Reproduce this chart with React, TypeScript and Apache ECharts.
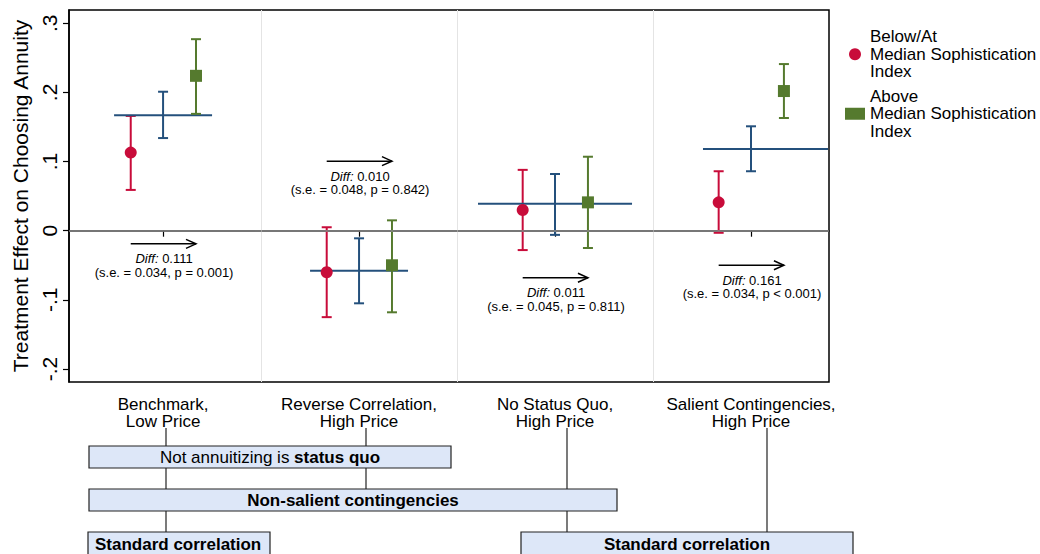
import React, { useEffect, useRef } from 'react';
import * as echarts from 'echarts';

const categories = [
  'Benchmark,\nLow Price',
  'Reverse Correlation,\nHigh Price',
  'No Status Quo,\nHigh Price',
  'Salient Contingencies,\nHigh Price',
];
const belowName = 'Below/At\nMedian Sophistication\nIndex';
const aboveName = 'Above\nMedian Sophistication\nIndex';

const belowEst = [0.113, -0.060, 0.030, 0.041];
const belowLo = [0.059, -0.125, -0.028, -0.003];
const belowHi = [0.166, 0.005, 0.088, 0.086];
const aboveEst = [0.224, -0.050, 0.041, 0.202];
const aboveLo = [0.169, -0.118, -0.025, 0.163];
const aboveHi = [0.277, 0.015, 0.107, 0.241];
const pooledEst = [0.167, -0.058, 0.039, 0.118];
const pooledLo = [0.134, -0.105, -0.006, 0.086];
const pooledHi = [0.201, -0.011, 0.082, 0.151];
const pooledSpanFrom = [0.75, 1.75, 2.607, 3.755];
const pooledSpanTo = [1.25, 2.25, 3.393, 4.393];

const diffVals = ['0.111', '0.010', '0.011', '0.161'];
const seVals = ['0.034', '0.048', '0.045', '0.034'];
const pVals = ['= 0.001', '= 0.842', '= 0.811', '< 0.001'];
const arrowY = [-0.019, 0.1006, -0.068, -0.05];

const yTicks = [-0.2, -0.1, 0, 0.1, 0.2, 0.3];
const xTicks = [1, 2, 3, 4];

const RED = '#C80C3A';
const GREEN = '#557A2E';
const BLUE = '#24507C';
const FONT = '"Liberation Sans", Arial, Helvetica, sans-serif';
const OFF_L = -0.165;
const OFF_R = 0.168;

function errBar(color: string, withH: boolean) {
  return (params: any, api: any) => {
    const x = api.value(0);
    const lo = api.value(1);
    const hi = api.value(2);
    const pLo = api.coord([x, lo]);
    const pHi = api.coord([x, hi]);
    const cw = 5;
    const st = { stroke: color, lineWidth: 2 };
    const children: any[] = [
      { type: 'line', shape: { x1: pLo[0], y1: pLo[1], x2: pHi[0], y2: pHi[1] }, style: st },
      { type: 'line', shape: { x1: pLo[0] - cw, y1: pLo[1], x2: pLo[0] + cw, y2: pLo[1] }, style: st },
      { type: 'line', shape: { x1: pHi[0] - cw, y1: pHi[1], x2: pHi[0] + cw, y2: pHi[1] }, style: st },
    ];
    if (withH) {
      const a = api.coord([api.value(3), api.value(5)]);
      const b = api.coord([api.value(4), api.value(5)]);
      children.push({ type: 'line', shape: { x1: a[0], y1: a[1], x2: b[0], y2: b[1] }, style: st });
    }
    return { type: 'group', children };
  };
}

export default function App() {
  const ref = useRef<HTMLDivElement>(null);
  useEffect(() => {
    const chart = echarts.init(ref.current!, null, { renderer: 'svg' });

    const belowBars = categories.map((_, i) => [i + 1 + OFF_L, belowLo[i], belowHi[i]]);
    const aboveBars = categories.map((_, i) => [i + 1 + OFF_R, aboveLo[i], aboveHi[i]]);
    const pooledBars = categories.map((_, i) => [i + 1, pooledLo[i], pooledHi[i], pooledSpanFrom[i], pooledSpanTo[i], pooledEst[i]]);
    const belowPts = categories.map((_, i) => [i + 1 + OFF_L, belowEst[i]]);
    const abovePts = categories.map((_, i) => [i + 1 + OFF_R, aboveEst[i]]);
    const annData = categories.map((_, i) => [i + 1, arrowY[i]]);

    const fmtY = (v: number) => {
      const r = Math.round(v * 10) / 10;
      if (r === 0) return '0';
      return (r < 0 ? '-' : '') + String(Math.abs(r)).replace(/^0/, '');
    };

    const textBase = { fontFamily: FONT, fill: '#000' };

    const graphics: any[] = [];
    const conn = (x: number, y1: number, y2: number) =>
      graphics.push({ type: 'line', shape: { x1: x, y1, x2: x, y2 }, style: { stroke: '#222', lineWidth: 1.2 }, silent: true });
    conn(166, 428, 446); conn(166, 468, 489); conn(166, 511, 532);
    conn(366, 428, 446); conn(366, 468, 489);
    conn(567, 428, 489); conn(567, 511, 532);
    conn(767, 428, 532);
    const box = (x: number, y: number, w: number, h: number) =>
      graphics.push({ type: 'rect', shape: { x, y, width: w, height: h }, style: { fill: '#DDE7F8', stroke: '#222', lineWidth: 1.2 }, silent: true });
    box(89, 446, 362, 22);
    box(89, 489, 528, 22);
    box(88, 532, 182, 30);
    box(521, 532, 332, 30);
    graphics.push({
      type: 'text', x: 270, y: 457, silent: true,
      style: {
        text: '{n|Not annuitizing is }{b|status quo}',
        align: 'center', verticalAlign: 'middle',
        rich: {
          n: { fontFamily: FONT, fontSize: 17, fill: '#000' },
          b: { fontFamily: FONT, fontSize: 17, fontWeight: 'bold', fill: '#000' },
        },
      },
    });
    graphics.push({ type: 'text', x: 353, y: 500, silent: true, style: { ...textBase, text: 'Non-salient contingencies', fontSize: 17, fontWeight: 'bold', align: 'center', verticalAlign: 'middle' } });
    graphics.push({ type: 'text', x: 95, y: 544, silent: true, style: { ...textBase, text: 'Standard correlation', fontSize: 17, fontWeight: 'bold', align: 'left', verticalAlign: 'middle' } });
    graphics.push({ type: 'text', x: 687, y: 544, silent: true, style: { ...textBase, text: 'Standard correlation', fontSize: 17, fontWeight: 'bold', align: 'center', verticalAlign: 'middle' } });

    const option: any = {
      animation: false,
      backgroundColor: '#fff',
      grid: {
        left: 69, right: 211, top: 10, bottom: 172,
        show: true, borderColor: '#000', borderWidth: 1.5, backgroundColor: 'transparent',
      },
      legend: {
        data: [belowName, aboveName],
        orient: 'vertical',
        left: 840, top: 23,
        itemWidth: 20, itemHeight: 12, itemGap: 7,
        textStyle: { fontSize: 17, lineHeight: 17.5, color: '#000', fontFamily: FONT },
        selectedMode: false,
      },
      xAxis: {
        type: 'value', min: 0.52, max: 4.398,
        axisLine: { show: true, lineStyle: { color: '#000', width: 1.5 } },
        axisTick: { show: true, customValues: xTicks, length: 6, lineStyle: { color: '#000', width: 1.2 } },
        axisLabel: {
          customValues: xTicks,
          formatter: (v: number) => categories[Math.round(v) - 1] || '',
          fontSize: 17, lineHeight: 17, margin: 14, color: '#000', fontFamily: FONT,
        },
        splitLine: { show: false },
      },
      yAxis: {
        type: 'value', min: -0.2188, max: 0.3192,
        name: 'Treatment Effect on Choosing Annuity',
        nameLocation: 'middle', nameGap: 32, nameRotate: 90,
        nameTextStyle: { fontSize: 21, color: '#000', fontFamily: FONT },
        axisLine: { show: true, lineStyle: { color: '#000', width: 1.5 } },
        axisTick: { show: true, customValues: yTicks, length: 6, lineStyle: { color: '#000', width: 1.2 } },
        axisLabel: {
          customValues: yTicks, rotate: 90, formatter: fmtY,
          fontSize: 21, margin: 9, color: '#000', fontFamily: FONT,
        },
        splitLine: { show: false },
      },
      graphic: graphics,
      series: [
        {
          type: 'line', name: 'refs', data: [], silent: true, z: 1,
          markLine: {
            silent: true, symbol: 'none', label: { show: false },
            data: [
              { xAxis: 1.5, lineStyle: { color: '#E4E4E4', width: 1, type: 'solid' } },
              { xAxis: 2.5, lineStyle: { color: '#E4E4E4', width: 1, type: 'solid' } },
              { xAxis: 3.5, lineStyle: { color: '#E4E4E4', width: 1, type: 'solid' } },
              { yAxis: 0, lineStyle: { color: '#8A8A8A', width: 1.5, type: 'solid' } },
            ],
          },
        },
        {
          type: 'custom', name: 'belowCI', renderItem: errBar(RED, false), data: belowBars,
          encode: { x: 0, y: [1, 2] }, silent: true, z: 2,
        },
        {
          type: 'custom', name: 'pooledCI', renderItem: errBar(BLUE, true), data: pooledBars,
          encode: { x: 0, y: [1, 2] }, silent: true, z: 2,
        },
        {
          type: 'custom', name: 'aboveCI', renderItem: errBar(GREEN, false), data: aboveBars,
          encode: { x: 0, y: [1, 2] }, silent: true, z: 2,
        },
        {
          type: 'scatter', name: belowName, data: belowPts, symbol: 'circle', symbolSize: 12,
          itemStyle: { color: RED, opacity: 1 }, z: 5, silent: true,
        },
        {
          type: 'scatter', name: aboveName, data: abovePts, symbol: 'rect', symbolSize: 12,
          itemStyle: { color: GREEN, opacity: 1 }, z: 5, silent: true,
        },
        {
          type: 'custom', name: 'annotations', data: annData, encode: { x: 0, y: 1 }, silent: true, z: 6,
          renderItem: (params: any, api: any) => {
            const i = params.dataIndex;
            const cx = api.value(0);
            const ay = api.value(1);
            const a = api.coord([cx + OFF_L, ay]);
            const b = api.coord([cx + OFF_R, ay]);
            const c = api.coord([cx, ay]);
            const st = { stroke: '#000', lineWidth: 1.5, fill: 'none' };
            return {
              type: 'group',
              children: [
                { type: 'line', shape: { x1: a[0], y1: a[1], x2: b[0], y2: b[1] }, style: st },
                { type: 'polyline', shape: { points: [[b[0] - 10, b[1] - 4.5], [b[0], b[1]], [b[0] - 10, b[1] + 4.5]] }, style: st },
                {
                  type: 'text', x: c[0] + 1, y: c[1] + 15,
                  style: {
                    text: '{i|Diff:}{n| ' + diffVals[i] + '}',
                    align: 'center', verticalAlign: 'middle',
                    rich: {
                      i: { fontFamily: FONT, fontSize: 13, fontStyle: 'italic', fill: '#000' },
                      n: { fontFamily: FONT, fontSize: 13, fill: '#000' },
                    },
                  },
                },
                {
                  type: 'text', x: c[0] + 1, y: c[1] + 28.5,
                  style: {
                    ...textBase, fontSize: 13,
                    text: '(s.e. = ' + seVals[i] + ', p ' + pVals[i] + ')',
                    align: 'center', verticalAlign: 'middle',
                  },
                },
              ],
            };
          },
        },
      ],
    };
    chart.setOption(option);
    return () => chart.dispose();
  }, []);
  return <div ref={ref} style={{ position: 'absolute', left: 0, top: 0, width: 1040, height: 554 }} />;
}
